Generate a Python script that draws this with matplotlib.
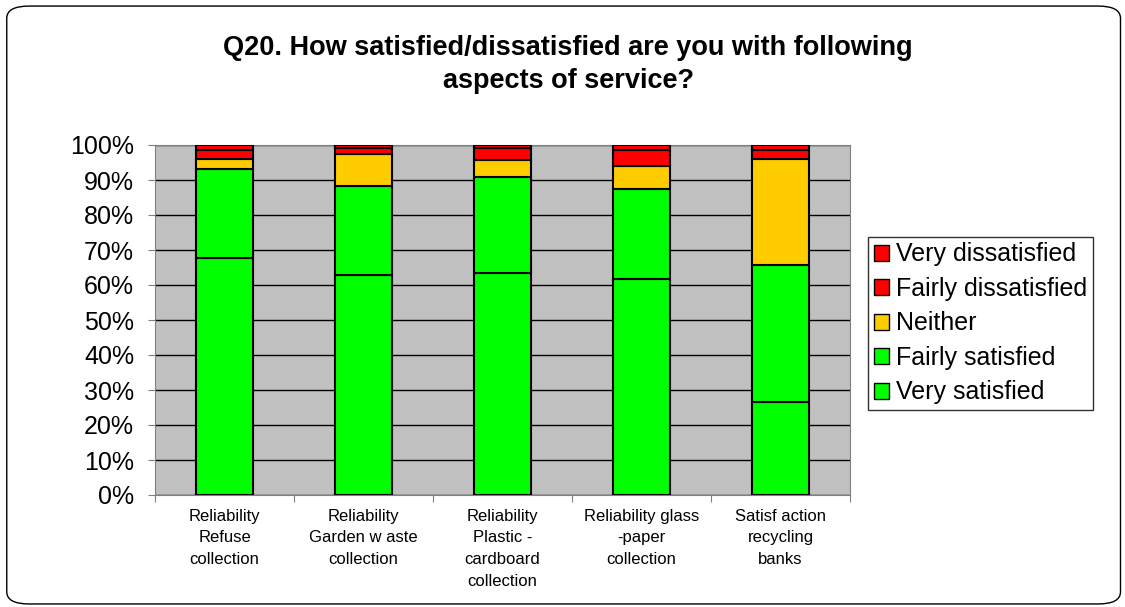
import matplotlib.pyplot as plt
import numpy as np
from matplotlib.patches import FancyBboxPatch, Patch

plt.rcParams['font.family'] = ['Liberation Sans', 'DejaVu Sans']

categories = [
    "Reliability\nRefuse\ncollection",
    "Reliability\nGarden w aste\ncollection",
    "Reliability\nPlastic -\ncardboard\ncollection",
    "Reliability glass\n-paper\ncollection",
    "Satisf action\nrecycling\nbanks",
]
very_satisfied = [67.7, 62.9, 63.4, 61.7, 26.6]
fairly_satisfied = [25.4, 25.4, 27.5, 25.8, 39.1]
neither = [2.9, 9.1, 4.8, 6.5, 30.3]
fairly_dissatisfied = [2.6, 1.7, 3.4, 4.6, 2.6]
very_dissatisfied = [1.4, 0.9, 0.9, 1.4, 1.4]

series = [
    ("Very satisfied", very_satisfied, "#00FF00"),
    ("Fairly satisfied", fairly_satisfied, "#00FF00"),
    ("Neither", neither, "#FFCC00"),
    ("Fairly dissatisfied", fairly_dissatisfied, "#FF0000"),
    ("Very dissatisfied", very_dissatisfied, "#FF0000"),
]

fig = plt.figure(figsize=(11.25, 6.07), dpi=100)
ax = fig.add_axes([155 / 1125, 1 - 495 / 607, 695 / 1125, 350 / 607])
ax.set_facecolor("#C0C0C0")

x = np.arange(len(categories))
bottom = np.zeros(len(categories))
for name, vals, color in series:
    vals = np.array(vals)
    ax.bar(x, vals, bottom=bottom, width=0.41, color=color,
           edgecolor="black", linewidth=1.5, zorder=3)
    bottom += vals

ax.set_xlim(-0.5, len(categories) - 0.5)
ax.set_ylim(0, 100)
ax.set_yticks(np.arange(0, 101, 10))
ax.set_yticklabels([f"{v}%" for v in range(0, 101, 10)], fontsize=18)
ax.yaxis.grid(True, color="black", linewidth=1, zorder=1)
ax.set_xticks(np.arange(-0.5, len(categories), 1), minor=False)
ax.set_xticklabels([])
ax.set_xticks(x, minor=True)
ax.set_xticklabels(categories, minor=True, fontsize=12, linespacing=1.55)
ax.tick_params(axis="x", which="minor", length=0, pad=10)
ax.tick_params(axis="x", which="major", length=5, color="#808080")
ax.tick_params(axis="y", length=5, color="#808080", pad=10)
for side in ["top", "right", "left", "bottom"]:
    ax.spines[side].set_color("#808080")

fig.text(0.505, 0.943, "Q20. How satisfied/dissatisfied are you with following\naspects of service?",
         ha="center", va="top", fontsize=19.5, fontweight="bold", linespacing=1.35)

handles = [Patch(facecolor=c, edgecolor="black", label=n) for n, _, c in reversed(series)]
leg = fig.legend(handles=handles, loc="upper left", bbox_to_anchor=(868 / 1125, 1 - 237 / 607),
                 fontsize=18, frameon=True, fancybox=False, edgecolor="black",
                 handlelength=0.6, handleheight=0.6, handletextpad=0.3,
                 labelspacing=0.42, borderpad=0.22, borderaxespad=0)
leg.get_frame().set_linewidth(1)

fig.patches.append(FancyBboxPatch((0.006, 0.005), 0.99, 0.985,
                                  boxstyle="round,pad=0,rounding_size=0.02",
                                  transform=fig.transFigure, facecolor="none",
                                  edgecolor="black", linewidth=1))

fig.savefig("out.png", dpi=100)
